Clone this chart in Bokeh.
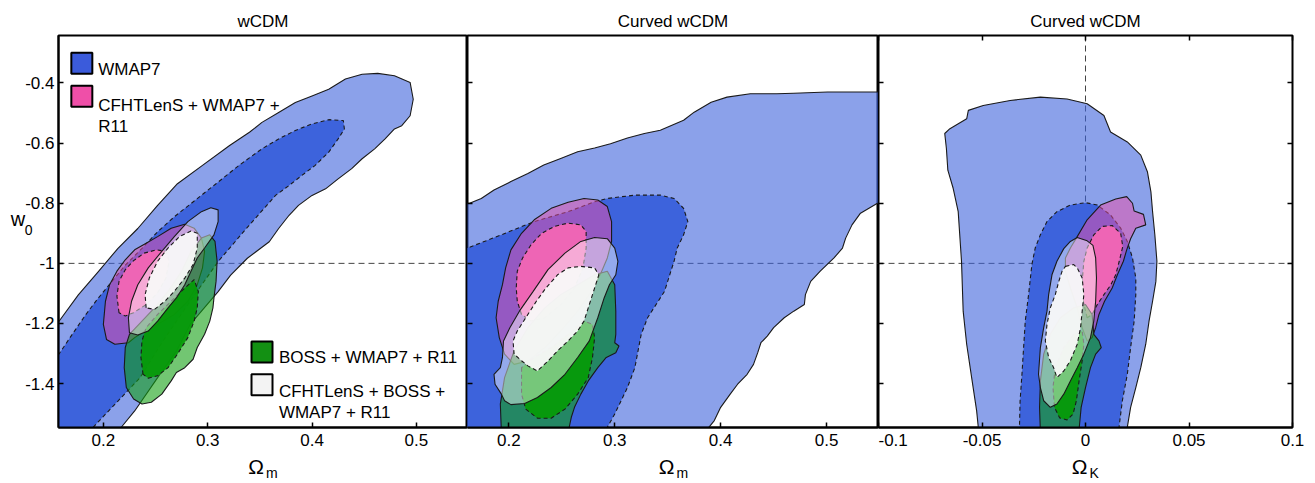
from bokeh.plotting import figure
from bokeh.models import (ColumnDataSource, Label, FixedTicker, CustomJSTickFormatter, Span,
                          Range1d, LinearAxis)
from bokeh.layouts import row
from bokeh.embed import file_html
from bokeh.resources import INLINE

# ---------------- data (contour polygons) ----------------
# Panel 1: wCDM, Omega_m vs w0
wcdm_wmap7_95_om = [0.150, 0.157, 0.176, 0.195, 0.214, 0.233, 0.252, 0.271, 0.295, 0.321, 0.340, 0.352, 0.368, 0.384, 0.400, 0.416, 0.432, 0.448, 0.463, 0.479, 0.494, 0.497, 0.494, 0.486, 0.479, 0.470, 0.460, 0.448, 0.438, 0.425, 0.413, 0.400, 0.387, 0.378, 0.368, 0.359, 0.338, 0.322, 0.310, 0.283, 0.270, 0.254, 0.230, 0.217, 0.212, 0.150]
wcdm_wmap7_95_w0 = [-1.187, -1.195, -1.105, -1.028, -0.950, -0.884, -0.807, -0.735, -0.674, -0.608, -0.564, -0.531, -0.498, -0.465, -0.443, -0.421, -0.387, -0.371, -0.368, -0.376, -0.398, -0.454, -0.509, -0.542, -0.553, -0.586, -0.619, -0.652, -0.685, -0.719, -0.752, -0.774, -0.807, -0.840, -0.884, -0.928, -0.983, -1.039, -1.094, -1.204, -1.292, -1.370, -1.491, -1.546, -1.560, -1.560]
wcdm_wmap7_68_om = [0.150, 0.157, 0.170, 0.183, 0.195, 0.208, 0.221, 0.237, 0.252, 0.268, 0.284, 0.308, 0.330, 0.352, 0.368, 0.384, 0.400, 0.416, 0.430, 0.431, 0.425, 0.416, 0.403, 0.390, 0.378, 0.365, 0.351, 0.337, 0.324, 0.310, 0.283, 0.257, 0.235, 0.214, 0.190, 0.186, 0.150]
wcdm_wmap7_68_w0 = [-1.300, -1.304, -1.237, -1.171, -1.116, -1.061, -1.006, -0.950, -0.895, -0.845, -0.801, -0.735, -0.674, -0.619, -0.586, -0.558, -0.536, -0.522, -0.525, -0.553, -0.586, -0.630, -0.674, -0.708, -0.741, -0.774, -0.829, -0.884, -0.937, -0.994, -1.127, -1.259, -1.381, -1.458, -1.546, -1.560, -1.560]
wcdm_cfht_95_om = [0.200, 0.202, 0.206, 0.213, 0.221, 0.230, 0.241, 0.252, 0.265, 0.278, 0.287, 0.294, 0.297, 0.295, 0.290, 0.281, 0.268, 0.252, 0.240, 0.230, 0.224, 0.211, 0.203]
wcdm_cfht_95_w0 = [-1.203, -1.126, -1.071, -1.026, -0.988, -0.955, -0.933, -0.911, -0.883, -0.870, -0.883, -0.916, -0.960, -1.015, -1.071, -1.126, -1.170, -1.203, -1.225, -1.247, -1.264, -1.269, -1.253]
wcdm_cfht_68_om = [0.215, 0.213, 0.215, 0.221, 0.229, 0.239, 0.251, 0.260, 0.263, 0.260, 0.252, 0.241, 0.229, 0.221]
wcdm_cfht_68_w0 = [-1.164, -1.109, -1.060, -1.021, -0.991, -0.966, -0.955, -0.960, -0.993, -1.049, -1.098, -1.137, -1.164, -1.175]
wcdm_boss_95_om = [0.222, 0.220, 0.221, 0.225, 0.237, 0.249, 0.262, 0.275, 0.284, 0.294, 0.302, 0.307, 0.309, 0.308, 0.306, 0.305, 0.302, 0.297, 0.290, 0.286, 0.278, 0.270, 0.265, 0.256, 0.246, 0.237, 0.229]
wcdm_boss_95_w0 = [-1.413, -1.347, -1.280, -1.236, -1.192, -1.148, -1.093, -1.026, -0.960, -0.916, -0.905, -0.927, -0.993, -1.060, -1.115, -1.148, -1.192, -1.236, -1.280, -1.319, -1.347, -1.363, -1.391, -1.435, -1.462, -1.468, -1.451]
wcdm_boss_68_om = [0.238, 0.236, 0.237, 0.241, 0.252, 0.265, 0.278, 0.287, 0.291, 0.290, 0.287, 0.281, 0.271, 0.262, 0.252, 0.243]
wcdm_boss_68_w0 = [-1.369, -1.313, -1.258, -1.214, -1.170, -1.126, -1.082, -1.054, -1.093, -1.148, -1.192, -1.247, -1.302, -1.347, -1.374, -1.382]
wcdm_all_95_om = [0.225, 0.224, 0.227, 0.233, 0.243, 0.256, 0.268, 0.281, 0.294, 0.303, 0.310, 0.310, 0.306, 0.297, 0.290, 0.284, 0.278, 0.270, 0.262, 0.252, 0.243, 0.233]
wcdm_all_95_w0 = [-1.231, -1.181, -1.126, -1.071, -1.015, -0.960, -0.911, -0.861, -0.828, -0.815, -0.822, -0.861, -0.905, -0.949, -0.982, -1.026, -1.071, -1.115, -1.148, -1.192, -1.225, -1.238]
wcdm_all_68_om = [0.241, 0.240, 0.244, 0.252, 0.262, 0.273, 0.284, 0.290, 0.290, 0.286, 0.278, 0.268, 0.259, 0.249]
wcdm_all_68_w0 = [-1.148, -1.104, -1.049, -0.993, -0.949, -0.911, -0.892, -0.900, -0.949, -1.004, -1.049, -1.093, -1.126, -1.153]

# Panel 2: curved wCDM, Omega_m vs w0
cw_wmap7_95_om = [0.150, 0.163, 0.174, 0.186, 0.202, 0.218, 0.233, 0.249, 0.265, 0.281, 0.296, 0.312, 0.328, 0.343, 0.365, 0.375, 0.391, 0.406, 0.428, 0.453, 0.469, 0.501, 0.532, 0.560, 0.560, 0.548, 0.532, 0.524, 0.518, 0.515, 0.507, 0.494, 0.485, 0.480, 0.479, 0.469, 0.460, 0.450, 0.444, 0.438, 0.435, 0.431, 0.425, 0.416, 0.409, 0.400, 0.394, 0.389, 0.387, 0.150]
cw_wmap7_95_w0 = [-0.800, -0.800, -0.784, -0.756, -0.728, -0.701, -0.673, -0.651, -0.629, -0.616, -0.602, -0.583, -0.568, -0.557, -0.524, -0.497, -0.464, -0.447, -0.436, -0.436, -0.434, -0.430, -0.430, -0.430, -0.790, -0.800, -0.833, -0.872, -0.916, -0.949, -0.982, -1.026, -1.060, -1.104, -1.137, -1.159, -1.181, -1.214, -1.242, -1.264, -1.297, -1.336, -1.369, -1.402, -1.435, -1.479, -1.523, -1.545, -1.560, -1.560]
cw_wmap7_68_om = [0.150, 0.161, 0.193, 0.224, 0.256, 0.281, 0.293, 0.319, 0.343, 0.356, 0.365, 0.369, 0.365, 0.359, 0.356, 0.353, 0.347, 0.337, 0.331, 0.325, 0.322, 0.319, 0.312, 0.306, 0.300, 0.293, 0.292, 0.150]
cw_wmap7_68_w0 = [-0.950, -0.949, -0.905, -0.861, -0.828, -0.795, -0.784, -0.773, -0.773, -0.784, -0.817, -0.861, -0.905, -0.949, -0.993, -1.026, -1.093, -1.148, -1.181, -1.236, -1.291, -1.347, -1.413, -1.457, -1.501, -1.545, -1.560, -1.560]
cw_cfht_95_om = [0.191, 0.188, 0.190, 0.194, 0.197, 0.202, 0.212, 0.224, 0.240, 0.256, 0.271, 0.284, 0.293, 0.297, 0.297, 0.293, 0.287, 0.278, 0.265, 0.249, 0.234, 0.218, 0.205, 0.196]
cw_cfht_95_w0 = [-1.247, -1.181, -1.126, -1.071, -1.015, -0.955, -0.900, -0.855, -0.817, -0.797, -0.784, -0.789, -0.811, -0.861, -0.927, -0.982, -1.032, -1.093, -1.159, -1.225, -1.280, -1.325, -1.336, -1.302]
cw_cfht_68_om = [0.208, 0.207, 0.208, 0.213, 0.221, 0.231, 0.243, 0.256, 0.268, 0.273, 0.273, 0.270, 0.262, 0.249, 0.234, 0.221, 0.212]
cw_cfht_68_w0 = [-1.126, -1.082, -1.026, -0.982, -0.938, -0.900, -0.877, -0.866, -0.872, -0.894, -0.949, -1.015, -1.082, -1.137, -1.181, -1.192, -1.170]
cw_boss_95_om = [0.193, 0.192, 0.196, 0.205, 0.218, 0.234, 0.249, 0.265, 0.281, 0.293, 0.300, 0.301, 0.301, 0.300, 0.304, 0.301, 0.292, 0.284, 0.275, 0.268, 0.262, 0.259, 0.256]
cw_boss_95_w0 = [-1.562, -1.468, -1.380, -1.291, -1.214, -1.148, -1.104, -1.071, -1.038, -1.026, -1.071, -1.159, -1.236, -1.264, -1.275, -1.297, -1.313, -1.347, -1.391, -1.435, -1.479, -1.512, -1.562]
cw_boss_68_om = [0.212, 0.212, 0.216, 0.227, 0.240, 0.253, 0.265, 0.275, 0.279, 0.281, 0.279, 0.271, 0.256, 0.240, 0.224]
cw_boss_68_w0 = [-1.347, -1.435, -1.485, -1.515, -1.515, -1.485, -1.435, -1.380, -1.313, -1.247, -1.203, -1.192, -1.236, -1.280, -1.313]
cw_all_95_om = [0.202, 0.196, 0.193, 0.187, 0.186, 0.192, 0.194, 0.195, 0.201, 0.210, 0.223, 0.237, 0.253, 0.268, 0.281, 0.293, 0.300, 0.303, 0.301, 0.295, 0.290, 0.284, 0.276, 0.265, 0.253, 0.240, 0.227, 0.215]
cw_all_95_w0 = [-1.470, -1.457, -1.435, -1.402, -1.369, -1.347, -1.313, -1.258, -1.214, -1.159, -1.093, -1.021, -0.966, -0.927, -0.914, -0.918, -0.949, -0.993, -1.038, -1.071, -1.115, -1.181, -1.258, -1.313, -1.369, -1.413, -1.446, -1.466]
cw_all_68_om = [0.205, 0.204, 0.208, 0.216, 0.226, 0.235, 0.246, 0.256, 0.268, 0.281, 0.285, 0.282, 0.279, 0.275, 0.271, 0.265, 0.256, 0.246, 0.237, 0.227, 0.218, 0.212]
cw_all_68_w0 = [-1.302, -1.258, -1.225, -1.181, -1.126, -1.082, -1.038, -1.015, -1.010, -1.015, -1.038, -1.071, -1.104, -1.148, -1.192, -1.225, -1.258, -1.291, -1.325, -1.358, -1.341, -1.324]

# Panel 3: curved wCDM, Omega_K vs w0
ck_wmap7_95_ok = [-0.0520, -0.0518, -0.0526, -0.0550, -0.0574, -0.0591, -0.0599, -0.0615, -0.0639, -0.0665, -0.0672, -0.0680, -0.0655, -0.0574, -0.0566, -0.0494, -0.0364, -0.0218, -0.0089, 0.0008, 0.0089, 0.0121, 0.0202, 0.0267, 0.0299, 0.0316, 0.0324, 0.0335, 0.0345, 0.0340, 0.0324, 0.0307, 0.0291, 0.0267, 0.0243, 0.0218, 0.0202, 0.0200]
ck_wmap7_95_w0 = [-1.560, -1.545, -1.490, -1.380, -1.269, -1.159, -0.993, -0.828, -0.751, -0.690, -0.618, -0.568, -0.552, -0.519, -0.491, -0.475, -0.458, -0.447, -0.453, -0.469, -0.508, -0.563, -0.596, -0.640, -0.695, -0.762, -0.828, -0.905, -0.993, -1.060, -1.126, -1.192, -1.269, -1.347, -1.413, -1.479, -1.545, -1.560]
ck_wmap7_68_ok = [-0.0320, -0.0319, -0.0316, -0.0307, -0.0299, -0.0291, -0.0275, -0.0259, -0.0243, -0.0218, -0.0186, -0.0138, -0.0073, 0.0, 0.0057, 0.0121, 0.0170, 0.0202, 0.0227, 0.0243, 0.0243, 0.0235, 0.0218, 0.0202, 0.0178, 0.0162, 0.0160]
ck_wmap7_68_w0 = [-1.560, -1.545, -1.457, -1.369, -1.280, -1.192, -1.104, -1.004, -0.949, -0.905, -0.861, -0.828, -0.806, -0.798, -0.806, -0.839, -0.883, -0.927, -0.982, -1.049, -1.104, -1.192, -1.280, -1.369, -1.457, -1.545, -1.560]
ck_cfht_95_ok = [0.0008, -0.0016, -0.0040, -0.0073, -0.0097, -0.0097, -0.0073, -0.0040, 0.0008, 0.0073, 0.0146, 0.0199, 0.0227, 0.0235, 0.0280, 0.0291, 0.0243, 0.0218, 0.0199, 0.0183, 0.0154, 0.0129, 0.0092, 0.0065, 0.0049, 0.0032]
ck_cfht_95_w0 = [-1.258, -1.214, -1.148, -1.082, -1.026, -0.982, -0.949, -0.911, -0.855, -0.806, -0.786, -0.778, -0.800, -0.826, -0.837, -0.872, -0.883, -0.918, -0.955, -0.993, -1.038, -1.082, -1.126, -1.170, -1.214, -1.247]
ck_cfht_68_ok = [0.0008, -0.0011, -0.0016, -0.0008, 0.0008, 0.0040, 0.0081, 0.0129, 0.0170, 0.0180, 0.0163, 0.0146, 0.0121, 0.0089, 0.0057, 0.0032]
ck_cfht_68_w0 = [-1.181, -1.126, -1.060, -0.993, -0.949, -0.905, -0.877, -0.874, -0.900, -0.944, -0.993, -1.038, -1.073, -1.104, -1.137, -1.170]
ck_boss_95_ok = [-0.0218, -0.0222, -0.0218, -0.0202, -0.0170, -0.0121, -0.0057, 0.0, 0.0032, 0.0040, 0.0065, 0.0076, 0.0049, 0.0024, 0.0, -0.0021, -0.0032]
ck_boss_95_w0 = [-1.560, -1.479, -1.391, -1.302, -1.236, -1.181, -1.148, -1.137, -1.170, -1.236, -1.258, -1.280, -1.302, -1.347, -1.413, -1.479, -1.560]
ck_boss_68_ok = [-0.0146, -0.0157, -0.0150, -0.0125, -0.0089, -0.0060, -0.0044, -0.0031, -0.0016, -0.0008, -0.0016, -0.0057, -0.0105]
ck_boss_68_w0 = [-1.347, -1.413, -1.479, -1.514, -1.521, -1.501, -1.457, -1.391, -1.324, -1.269, -1.225, -1.236, -1.280]
ck_all_95_ok = [-0.0040, 0.0008, 0.0036, 0.0049, 0.0053, 0.0049, 0.0040, 0.0024, -0.0008, -0.0040, -0.0073, -0.0105, -0.0138, -0.0170, -0.0202, -0.0218, -0.0227, -0.0218, -0.0202, -0.0186, -0.0178, -0.0162, -0.0138, -0.0105, -0.0073]
ck_all_95_w0 = [-0.914, -0.925, -0.940, -0.982, -1.049, -1.126, -1.192, -1.247, -1.302, -1.347, -1.391, -1.435, -1.468, -1.479, -1.457, -1.413, -1.369, -1.280, -1.214, -1.159, -1.104, -1.038, -0.993, -0.951, -0.927]
ck_all_68_ok = [-0.0097, -0.0057, -0.0040, -0.0016, -0.0008, -0.0016, -0.0024, -0.0040, -0.0073, -0.0105, -0.0138, -0.0154, -0.0178, -0.0194, -0.0186, -0.0170, -0.0146, -0.0129, -0.0113]
ck_all_68_w0 = [-1.010, -1.004, -1.015, -1.049, -1.104, -1.159, -1.214, -1.269, -1.324, -1.358, -1.380, -1.347, -1.313, -1.258, -1.203, -1.148, -1.104, -1.060, -1.026]

# reference values and ticks
ref_w0 = -1.0
ref_ok = 0.0
w0_ticks = [-1.4, -1.2, -1.0, -0.8, -0.6, -0.4]
om_ticks = [0.2, 0.3, 0.4, 0.5]
ok_ticks = [-0.1, -0.05, 0.0, 0.05, 0.1]
panel_titles = ["wCDM", "Curved wCDM", "Curved wCDM"]
legend_labels = ["WMAP7", ["CFHTLenS + WMAP7 +", "R11"], "BOSS + WMAP7 + R11", ["CFHTLenS + BOSS +", "WMAP7 + R11"]]

# ---------------- styling ----------------
FONT = "Liberation Sans"
BLUE = "#3d63dc"
PINK = "#ee4fa8"
PINK_IN = "#f266b4"
GREEN = "#14a014"
GREEN_IN = "#069a08"
STYLES = {
    ("wmap", 95): dict(fill_color=BLUE, fill_alpha=0.6, line_dash="solid"),
    ("wmap", 68): dict(fill_color=BLUE, fill_alpha=1.0, line_dash="4 3"),
    ("cfht", 95): dict(fill_color=PINK, fill_alpha=0.5, line_dash="solid"),
    ("cfht", 68): dict(fill_color=PINK_IN, fill_alpha=0.95, line_dash="4 3"),
    ("boss", 95): dict(fill_color=GREEN, fill_alpha=0.6, line_dash="solid"),
    ("boss", 68): dict(fill_color=GREEN_IN, fill_alpha=0.95, line_dash="4 3"),
    ("all", 95): dict(fill_color="#ffffff", fill_alpha=0.45, line_dash="solid"),
    ("all", 68): dict(fill_color="#f8f8f8", fill_alpha=0.95, line_dash="4 3"),
}

Y_RANGE = (-1.546, -0.242)
FT, FB = 33, 427  # frame top / bottom in page px (layout)
PANELS = [
    dict(xr=(0.157, 0.549), left=55, right=467, ml=55, mr=0),
    dict(xr=(0.161, 0.549), left=467, right=878, ml=0, mr=0),
    dict(xr=(-0.1, 0.1), left=878, right=1292, ml=0, mr=15),
]
H = 482
MT = FT
MB = H - MT - (FB - FT)


def to_data(pn, px, py):
    x0, x1 = pn["xr"]
    y0, y1 = Y_RANGE
    return (x0 + (px - pn["left"]) / (pn["right"] - pn["left"]) * (x1 - x0),
            y0 + (FB - py) / (FB - FT) * (y1 - y0))


def side_label(p, place, **kw):
    kw.setdefault("text_font", FONT)
    kw.setdefault("text_color", "black")
    kw.setdefault("text_baseline", "alphabetic")
    p.add_layout(Label(**kw), place)


def tick_only_axis(p, place, ticks, dim):
    rng = {} if dim == "x" else {}
    ax = LinearAxis(ticker=FixedTicker(ticks=ticks),
                    formatter=CustomJSTickFormatter(code="return ''"),
                    major_tick_in=5, major_tick_out=0, major_tick_line_width=1.5,
                    minor_tick_line_color=None, major_label_standoff=0,
                    major_label_text_font_size="0px", axis_line_color=None, **rng)
    p.add_layout(ax, place)


def make_fig(i, xticks, xlabel_main, xlabel_sub, sub_px):
    pn = PANELS[i]
    fw = pn["right"] - pn["left"]
    p = figure(width=pn["ml"] + fw + pn["mr"], height=H, output_backend="svg",
               toolbar_location=None, title=None,
               x_range=Range1d(*pn["xr"]), y_range=Range1d(*Y_RANGE),
               y_axis_location="left" if i == 0 else None,
               min_border_left=pn["ml"], min_border_right=pn["mr"],
               min_border_top=MT, min_border_bottom=MB)
    p.grid.visible = False
    p.outline_line_color = "black"
    p.outline_line_width = 2
    p.background_fill_color = "white"
    p.border_fill_color = "white"
    fmt = CustomJSTickFormatter(code="return String(Math.round(tick*1000)/1000)")
    axes = list(p.xaxis) + (list(p.yaxis) if i == 0 else [])
    for ax in axes:
        ax.major_tick_in = 5
        ax.major_tick_out = 0
        ax.minor_tick_line_color = None
        ax.axis_line_width = 2
        ax.major_tick_line_width = 1.5
        ax.major_label_text_font = FONT
        ax.major_label_text_font_size = "17px"
        ax.major_label_text_color = "black"
        ax.formatter = fmt
    p.xaxis.ticker = FixedTicker(ticks=xticks)
    p.xaxis.major_label_standoff = 6
    if i == 0:
        p.yaxis.ticker = FixedTicker(ticks=w0_ticks)
        p.yaxis.major_label_standoff = 4
    else:
        tick_only_axis(p, "left", w0_ticks, "y")
    if i == 2:
        tick_only_axis(p, "right", w0_ticks, "y")
        tick_only_axis(p, "above", xticks, "x")
    # reference lines
    p.add_layout(Span(location=ref_w0, dimension="width", line_dash="6 4",
                      line_color="#444444", line_width=1, level="underlay"))
    if i == 2:
        p.add_layout(Span(location=ref_ok, dimension="height", line_dash="6 4",
                          line_color="#444444", line_width=1, level="underlay"))
    # title
    xm = 0.5 * (pn["xr"][0] + pn["xr"][1])
    side_label(p, "above", x=xm, y=Y_RANGE[1], y_offset=14, text=panel_titles[i],
               text_font_size="17px", text_align="center")
    # x axis label with subscript (placed in side panels so it is not clipped)
    xo, _ = to_data(pn, sub_px[0], 0)
    xs, _ = to_data(pn, sub_px[1], 0)
    side_label(p, "below", x=xo, y=Y_RANGE[0], y_offset=-39, text=xlabel_main,
               text_font_size="21px", text_align="center")
    side_label(p, "above", x=xs, y=Y_RANGE[0], y_offset=-45, text=xlabel_sub,
               text_font_size="14px", text_align="left")
    return p


def draw(p, name, level, xs, ys):
    st = STYLES[(name, level)]
    p.patch(xs, ys, fill_color=st["fill_color"], fill_alpha=st["fill_alpha"],
            line_color="#1a1a1a", line_width=1.1, line_dash=st["line_dash"])


p1 = make_fig(0, om_ticks, "Ω", "m", (254, 264))
p2 = make_fig(1, om_ticks, "Ω", "m", (666, 676))
p3 = make_fig(2, ok_ticks, "Ω", "K", (1079, 1089))

sets = [
    (p1, [("wmap", 95, wcdm_wmap7_95_om, wcdm_wmap7_95_w0), ("wmap", 68, wcdm_wmap7_68_om, wcdm_wmap7_68_w0),
          ("cfht", 95, wcdm_cfht_95_om, wcdm_cfht_95_w0), ("cfht", 68, wcdm_cfht_68_om, wcdm_cfht_68_w0),
          ("boss", 95, wcdm_boss_95_om, wcdm_boss_95_w0), ("boss", 68, wcdm_boss_68_om, wcdm_boss_68_w0),
          ("all", 95, wcdm_all_95_om, wcdm_all_95_w0), ("all", 68, wcdm_all_68_om, wcdm_all_68_w0)]),
    (p2, [("wmap", 95, cw_wmap7_95_om, cw_wmap7_95_w0), ("wmap", 68, cw_wmap7_68_om, cw_wmap7_68_w0),
          ("cfht", 95, cw_cfht_95_om, cw_cfht_95_w0), ("cfht", 68, cw_cfht_68_om, cw_cfht_68_w0),
          ("boss", 95, cw_boss_95_om, cw_boss_95_w0), ("boss", 68, cw_boss_68_om, cw_boss_68_w0),
          ("all", 95, cw_all_95_om, cw_all_95_w0), ("all", 68, cw_all_68_om, cw_all_68_w0)]),
    (p3, [("wmap", 95, ck_wmap7_95_ok, ck_wmap7_95_w0), ("wmap", 68, ck_wmap7_68_ok, ck_wmap7_68_w0),
          ("cfht", 95, ck_cfht_95_ok, ck_cfht_95_w0), ("cfht", 68, ck_cfht_68_ok, ck_cfht_68_w0),
          ("boss", 95, ck_boss_95_ok, ck_boss_95_w0), ("boss", 68, ck_boss_68_ok, ck_boss_68_w0),
          ("all", 95, ck_all_95_ok, ck_all_95_w0), ("all", 68, ck_all_68_ok, ck_all_68_w0)]),
]
for p, items in sets:
    for name, lvl, xs, ys in items:
        draw(p, name, lvl, xs, ys)

# y-axis label w_0
pn0 = PANELS[0]
wx, _ = to_data(pn0, 7, 0)
sx, _ = to_data(pn0, 21, 0)
_, wy = to_data(pn0, 0, 217)
_, sy = to_data(pn0, 0, 228)
side_label(p1, "left", x=wx, y=wy, text="w", text_font_size="20px")
side_label(p1, "left", x=sx, y=sy, text="0", text_font_size="14px")

# legend (manual, two blocks inside panel 1)
leg_colors = ["#3b5bdb", "#ef4fa8", "#139013", "#f3f3f3"]
leg_sq_px = [(78.5, 61), (78.5, 94), (260, 351), (260, 384)]
leg_txt_px = [(95, [67]), (95, [103, 124]), (277, [357]), (277, [391, 412])]
sq = [to_data(pn0, a, b) for a, b in leg_sq_px]
src = ColumnDataSource(dict(x=[s[0] for s in sq], y=[s[1] for s in sq], c=leg_colors))
p1.rect("x", "y", width=21, height=21, width_units="screen", height_units="screen",
        fill_color="c", line_color="black", line_width=2, source=src)
for lab, (tx, tys) in zip(legend_labels, leg_txt_px):
    lines = lab if isinstance(lab, list) else [lab]
    for line, ty in zip(lines, tys):
        dx, dy = to_data(pn0, tx, ty)
        p1.add_layout(Label(x=dx, y=dy, text=line, text_font=FONT, text_font_size="17px",
                            text_baseline="alphabetic", text_color="black"))

layout = row(p1, p2, p3)
open("out.html", "w").write(file_html(layout, INLINE))
